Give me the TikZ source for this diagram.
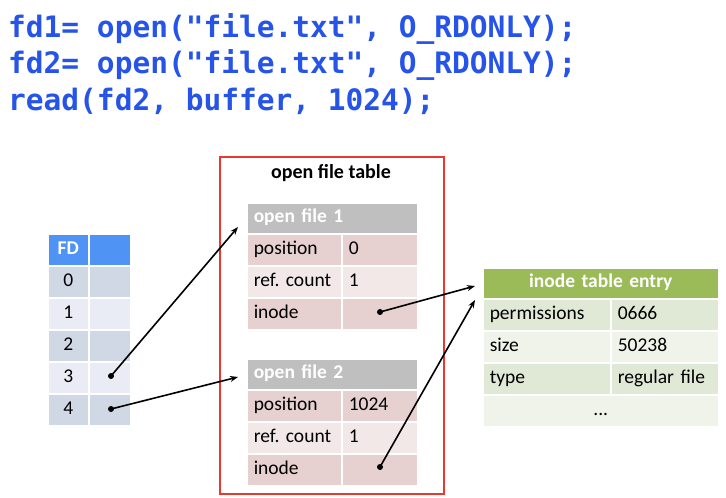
\documentclass[tikz,border=0pt]{standalone}
\usepackage{fontspec}
\setmainfont{Carlito}
\newfontfamily\codefont{DejaVu Sans Mono}
\usetikzlibrary{arrows.meta}
\definecolor{codeblue}{RGB}{38,84,232}
\definecolor{fdhead}{RGB}{79,147,245}
\definecolor{fddark}{RGB}{208,215,229}
\definecolor{fdlight}{RGB}{233,236,244}
\definecolor{grayhead}{RGB}{191,191,191}
\definecolor{pinkdark}{RGB}{230,208,208}
\definecolor{pinklight}{RGB}{242,232,232}
\definecolor{greenhead}{RGB}{155,187,89}
\definecolor{greendark}{RGB}{224,232,214}
\definecolor{greenlight}{RGB}{239,243,234}
\definecolor{redbox}{RGB}{232,57,46}
\frenchspacing
\begin{document}
\begin{tikzpicture}[x=1pt,y=-1pt,
 cell/.style={draw=white, line width=1.5pt, anchor=north west, inner xsep=7pt, inner ysep=0pt,
   font=\fontsize{19.5}{20}\selectfont, text height=13pt, text depth=4pt, minimum height=32pt},
 hcell/.style={cell, font=\fontsize{19.5}{20}\selectfont\bfseries, text=white, minimum height=31pt},
 code/.style={anchor=base west, inner sep=0pt, font=\codefont\bfseries\fontsize{29.5}{30}\selectfont, text=codeblue},
 ptr/.style={line width=1.6pt, -{Stealth[length=8pt,width=6pt]}, shorten <=-2pt},
 dotn/.style={circle, fill=black, inner sep=0pt, minimum size=6pt}
]
\useasboundingbox[fill=white] (0,0) rectangle (726,498);

% code lines
\node[code] (c1) at (8,37) {fd1= open("file.txt", O\_RDONLY);};
\node[code] (c2) at (8,73) {fd2= open("file.txt", O\_RDONLY);};
\node[code] (c3) at (8,110) {read(fd2, buffer, 1024);};

% FD table
\node[hcell, fill=fdhead, text width=27pt, align=center, minimum height=32pt] (fdh) at (47,233) {FD};
\node[hcell, fill=fdhead, text width=28pt, minimum height=32pt] (fdh2) at (88,233) {};
\node[cell, fill=fddark,  text width=27pt, align=center] (fd0) at (47,265) {0};
\node[cell, fill=fddark,  text width=28pt] (fd0b) at (88,265) {};
\node[cell, fill=fdlight, text width=27pt, align=center] (fd1) at (47,297) {1};
\node[cell, fill=fdlight, text width=28pt] (fd1b) at (88,297) {};
\node[cell, fill=fddark,  text width=27pt, align=center] (fd2) at (47,329) {2};
\node[cell, fill=fddark,  text width=28pt] (fd2b) at (88,329) {};
\node[cell, fill=fdlight, text width=27pt, align=center] (fd3) at (47,361) {3};
\node[cell, fill=fdlight, text width=28pt] (fd3b) at (88,361) {};
\node[cell, fill=fddark,  text width=27pt, align=center] (fd4) at (47,393) {4};
\node[cell, fill=fddark,  text width=28pt] (fd4b) at (88,393) {};

% open file table box
\node[draw=redbox, line width=2pt, anchor=north west, inner sep=0pt,
      minimum width=224pt, minimum height=337pt] (oft) at (219,156) {};
\node[font=\fontsize{20}{20}\selectfont\bfseries, inner sep=0pt] (ofttitle) at (331,173) {open file table};

% open file 1
\node[hcell, fill=grayhead, text width=157pt, align=left] (of1h) at (246,202) {open file 1};
\node[cell, fill=pinkdark,  text width=81pt, align=left] (of1pos) at (246,233) {position};
\node[cell, fill=pinkdark,  text width=62pt, align=left] (of1posv) at (341,233) {0};
\node[cell, fill=pinklight, text width=81pt, align=left] (of1ref) at (246,265) {ref. count};
\node[cell, fill=pinklight, text width=62pt, align=left] (of1refv) at (341,265) {1};
\node[cell, fill=pinkdark,  text width=81pt, align=left] (of1ino) at (246,297) {inode};
\node[cell, fill=pinkdark,  text width=62pt, align=left] (of1inov) at (341,297) {};

% open file 2
\node[hcell, fill=grayhead, text width=157pt, align=left] (of2h) at (246,358) {open file 2};
\node[cell, fill=pinkdark,  text width=81pt, align=left] (of2pos) at (246,389) {position};
\node[cell, fill=pinkdark,  text width=62pt, align=left] (of2posv) at (341,389) {1024};
\node[cell, fill=pinklight, text width=81pt, align=left] (of2ref) at (246,421) {ref. count};
\node[cell, fill=pinklight, text width=62pt, align=left] (of2refv) at (341,421) {1};
\node[cell, fill=pinkdark,  text width=81pt, align=left] (of2ino) at (246,453) {inode};
\node[cell, fill=pinkdark,  text width=62pt, align=left] (of2inov) at (341,453) {};

% inode table entry
\node[hcell, fill=greenhead, text width=222pt, align=center] (inh) at (482,267) {inode table entry};
\node[cell, fill=greendark,  text width=114pt, align=left] (inperm) at (482,298) {permissions};
\node[cell, fill=greendark,  text width=94pt, align=left] (inpermv) at (610,298) {0666};
\node[cell, fill=greenlight, text width=114pt, align=left] (insize) at (482,330) {size};
\node[cell, fill=greenlight, text width=94pt, align=left] (insizev) at (610,330) {50238};
\node[cell, fill=greendark,  text width=114pt, align=left] (intype) at (482,362) {type};
\node[cell, fill=greendark,  text width=94pt, align=left] (intypev) at (610,362) {regular file};
\node[cell, fill=greenlight, text width=222pt, align=center] (inmore) at (482,394) {...};

% pointer dots and targets
\node[dotn] (d3) at (111,376) {};
\node[dotn] (d4) at (111,409) {};
\node[dotn] (i1) at (380,312) {};
\node[dotn] (i2) at (380,467) {};
\coordinate (t1) at (238,227);
\coordinate (t2) at (238,377);
\coordinate (t3) at (475,286);
\coordinate (t4) at (475,300);

\draw[ptr] (d3.center) -- (t1);
\draw[ptr] (d4.center) -- (t2);
\draw[ptr] (i1.center) -- (t3);
\draw[ptr] (i2.center) -- (t4);
\end{tikzpicture}
\end{document}
